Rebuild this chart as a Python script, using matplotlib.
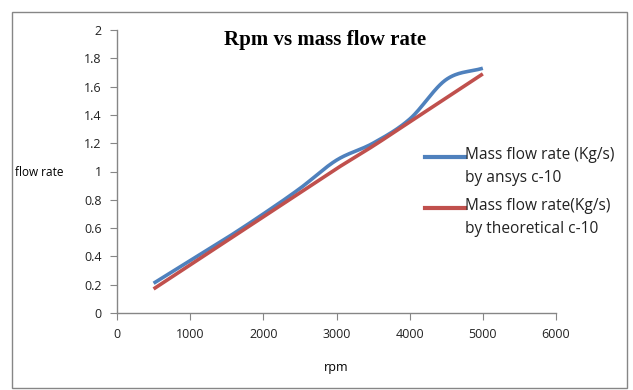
import numpy as np
import matplotlib
matplotlib.use("Agg")
import matplotlib.pyplot as plt
from matplotlib.patches import Rectangle
from matplotlib.lines import Line2D

rpm = [500, 1000, 1500, 2000, 2500, 3000, 3500, 4000, 4500, 5000]
flow_ansys = [0.21, 0.37, 0.53, 0.70, 0.88, 1.08, 1.20, 1.37, 1.65, 1.73]
flow_theory = [0.17, 0.34, 0.51, 0.68, 0.85, 1.02, 1.18, 1.35, 1.52, 1.69]

label_ansys = "Mass flow rate (Kg/s)\nby ansys c-10"
label_theory = "Mass flow rate(Kg/s)\nby theoretical c-10"

blue = "#4F81BD"
red = "#C0504D"
grey = "#868686"

plt.rcParams["font.family"] = ["Open Sans", "DejaVu Sans"]


def smooth(x, y, n=30):
    # Excel-style smoothed line (Catmull-Rom through the points)
    x = np.asarray(x, float)
    y = np.asarray(y, float)
    px = np.concatenate([[2 * x[0] - x[1]], x, [2 * x[-1] - x[-2]]])
    py = np.concatenate([[2 * y[0] - y[1]], y, [2 * y[-1] - y[-2]]])
    xs, ys = [], []
    t = np.linspace(0, 1, n)
    for i in range(1, len(px) - 2):
        p0, p1, p2, p3 = [np.array([px[j], py[j]]) for j in range(i - 1, i + 3)]
        c = 0.5 * (2 * p1[:, None] + (-p0 + p2)[:, None] * t
                   + (2 * p0 - 5 * p1 + 4 * p2 - p3)[:, None] * t ** 2
                   + (-p0 + 3 * p1 - 3 * p2 + p3)[:, None] * t ** 3)
        xs.extend(c[0])
        ys.extend(c[1])
    return xs, ys


fig = plt.figure(figsize=(6.33, 3.9), dpi=100)
ax = fig.add_axes([117 / 633, 1 - 313 / 390, (556 - 117) / 633, (313 - 30) / 390])

fig.patches.append(Rectangle((12 / 633, 2 / 390), 615 / 633, 376 / 390,
                             transform=fig.transFigure, fill=False,
                             edgecolor=grey, linewidth=1.0))

sx, sy = smooth(rpm, flow_ansys)
ax.plot(sx, sy, color=blue, linewidth=2.6, solid_capstyle="butt")
tx, ty = smooth(rpm, flow_theory)
ax.plot(tx, ty, color=red, linewidth=2.6, solid_capstyle="butt")

ax.set_xlim(0, 6000)
ax.set_ylim(0, 2)
ax.set_xticks(range(0, 6001, 1000))
ax.set_yticks(np.round(np.arange(0, 2.01, 0.2), 1))
ax.set_yticklabels(["0", "0.2", "0.4", "0.6", "0.8", "1", "1.2", "1.4", "1.6", "1.8", "2"])

for s in ["top", "right"]:
    ax.spines[s].set_visible(False)
for s in ["left", "bottom"]:
    ax.spines[s].set_color(grey)
    ax.spines[s].set_linewidth(1.0)
ax.tick_params(direction="out", length=5, color=grey, labelsize=9, pad=6,
               labelcolor="#222222")

ax.set_xlabel("rpm", fontsize=9, labelpad=14)
ax.set_ylabel("flow rate", fontsize=8.5, rotation=0, ha="right", va="center")
ax.yaxis.set_label_coords(-0.122, 0.495)

fig.text(325 / 633, 1 - 40 / 390, "Rpm vs mass flow rate", fontsize=15,
         fontweight="bold", family="Liberation Serif", ha="center", va="center")

# legend
for ypix, col, lab in [(157, blue, label_ansys), (208, red, label_theory)]:
    yf = 1 - ypix / 390
    fig.lines.append(Line2D([425 / 633, 465 / 633], [yf, yf], color=col,
                            linewidth=3.0, transform=fig.transFigure))
    fig.text(465 / 633, yf + 10 / 390, lab, fontsize=11.2, va="top", ha="left",
             linespacing=1.6, color="#222222")

fig.savefig("out.png", dpi=100)
plt.close(fig)
